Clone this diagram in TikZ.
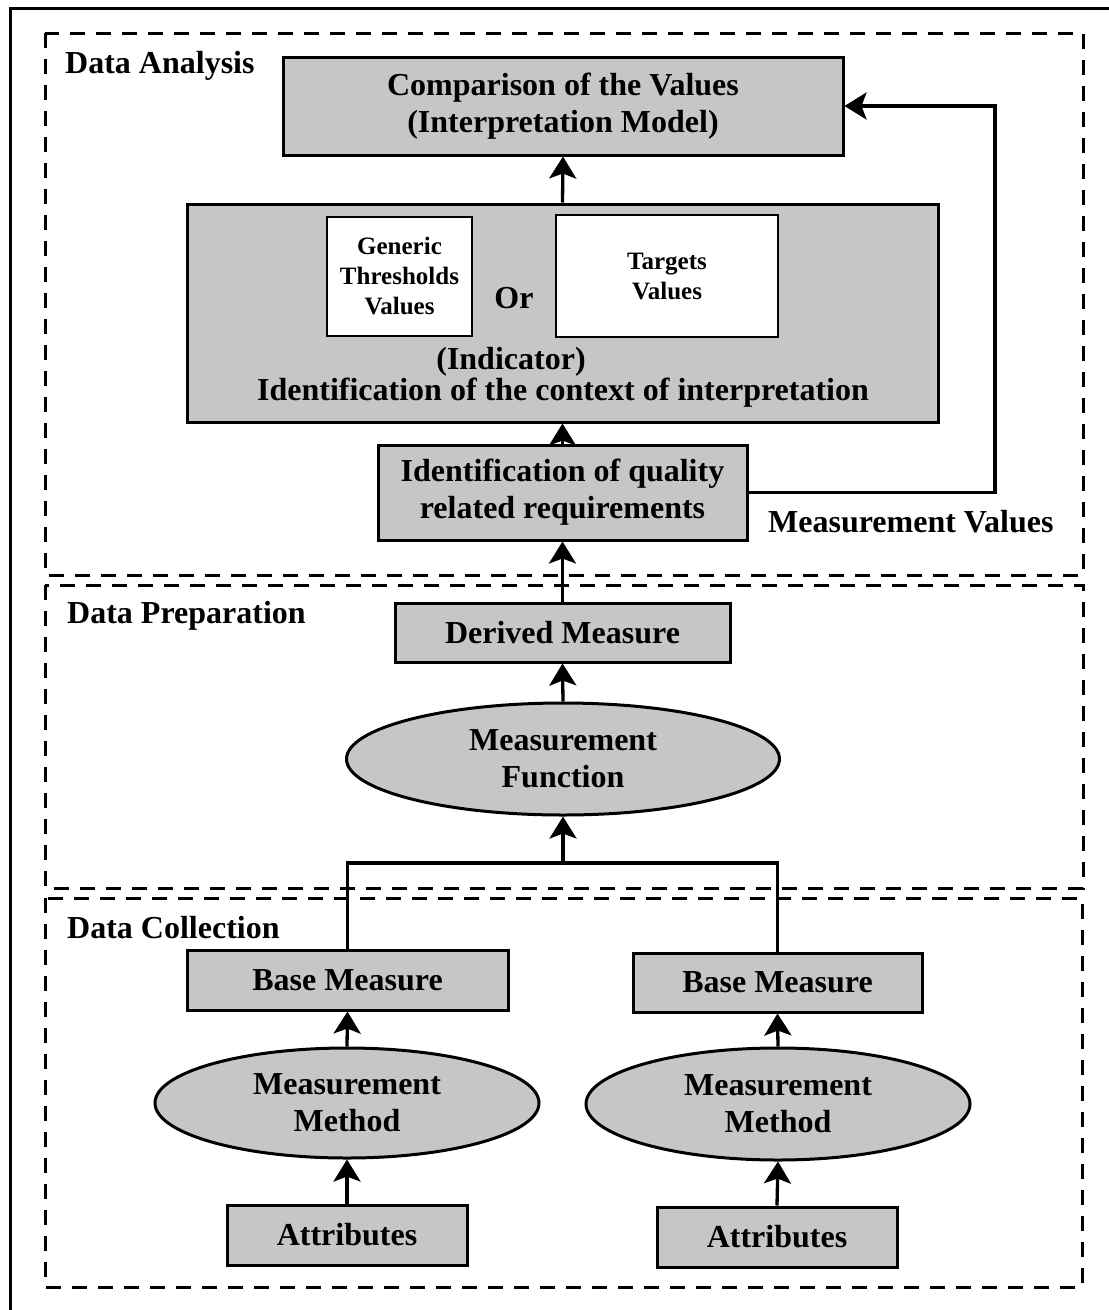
\documentclass[tikz,border=0pt]{standalone}
\usepackage{fontspec}
\setmainfont{Liberation Serif}
\usetikzlibrary{shapes.geometric,arrows.meta}
\definecolor{boxgray}{RGB}{198,198,198}
\begin{document}
\begin{tikzpicture}[x=1pt,y=-1pt,
  every node/.style={font=\bfseries\fontsize{32}{37}\selectfont, align=center, inner sep=0pt},
  gbox/.style={draw, line width=3pt, fill=boxgray, rectangle},
  wbox/.style={draw, line width=2.5pt, fill=white, rectangle, font=\bfseries\fontsize{25}{30}\selectfont},
  gell/.style={draw, line width=3pt, fill=boxgray, ellipse},
  arr/.style={line width=3.3pt, -{Stealth[length=22pt,width=27pt,inset=5pt]}},
  link/.style={line width=3.3pt},
  zone/.style={line width=3pt, dash pattern=on 15pt off 11pt},
  zonelabel/.style={anchor=base west},
]
\useasboundingbox (0,0) rectangle (1109,1310);

% outer frame (top and left edges)
\draw[line width=3pt] (10,1310) -- (10,8) -- (1109,8);

% the three process zones
\draw[zone] (45,33) rectangle (1083,575);
\draw[zone] (45,585) rectangle (1083,888);
\draw[zone] (45,898) rectangle (1082,1287);
\node[zonelabel] (lblA) at (65,73) {Data Analysis};
\node[zonelabel] (lblP) at (67,623) {Data Preparation};
\node[zonelabel] (lblC) at (67,938) {Data Collection};

% data analysis
\node[gbox, minimum width=560pt, minimum height=98pt] (cmp) at (563,106)
  {Comparison of the Values\\(Interpretation Model)};
\node[gbox, minimum width=751pt, minimum height=218pt] (ind) at (562.5,313) {};
\node[wbox, minimum width=145pt, minimum height=119pt] (gen) at (399.5,276.5)
  {Generic\\Thresholds\\Values};
\node[wbox, minimum width=222pt, minimum height=122pt] (tgt) at (667,276)
  {Targets\\Values};
\node (or) at (514,298) {Or};
\node (indlbl) at (511,362) {(Indicator)};
\node (ctx) at (563,393) {Identification of the context of interpretation};
\node[gbox, minimum width=369pt, minimum height=95pt] (req) at (562.5,492.5)
  {Identification of quality\\related requirements};
\node[anchor=base west] (mval) at (768,532) {Measurement Values};
\coordinate (mv) at (995,300);

% data preparation
\node[gbox, minimum width=335pt, minimum height=59pt] (der) at (562.5,632.5) {Derived Measure};
\node[gell, minimum width=433pt, minimum height=112pt] (mf) at (563,759)
  {Measurement\\Function};
\coordinate (j) at (563,863);

% data collection
\node[gbox, minimum width=321pt, minimum height=60pt] (bm1) at (347.5,980) {Base Measure};
\node[gbox, minimum width=289pt, minimum height=59pt] (bm2) at (777.5,982.5) {Base Measure};
\node[gell, minimum width=384pt, minimum height=110pt] (mm1) at (347,1103)
  {Measurement\\Method};
\node[gell, minimum width=384pt, minimum height=112pt] (mm2) at (778,1104)
  {Measurement\\Method};
\node[gbox, minimum width=240pt, minimum height=60pt] (at1) at (347,1235) {Attributes};
\node[gbox, minimum width=240pt, minimum height=60pt] (at2) at (777,1237) {Attributes};

% connectors
\draw[arr] (ind.north) -- (cmp.south);
\draw[arr] (req.north) -- (ind.south);
\draw[arr] (der.north) -- (req.south);
\draw[arr] (mf.north) -- (der.south);
\draw[arr] (j) -- (mf.south);
\draw[link] (bm1.north) -- (bm1.north |- j) -- (bm2.north |- j) -- (bm2.north);
\draw[arr] (mm1.north) -- (bm1.south);
\draw[arr] (mm2.north) -- (bm2.south);
\draw[arr] (at1.north) -- (mm1.south);
\draw[arr] (at2.north) -- (mm2.south);
\draw[arr] (req.east) -- (req.east -| mv) |- (cmp.east);
\end{tikzpicture}
\end{document}
